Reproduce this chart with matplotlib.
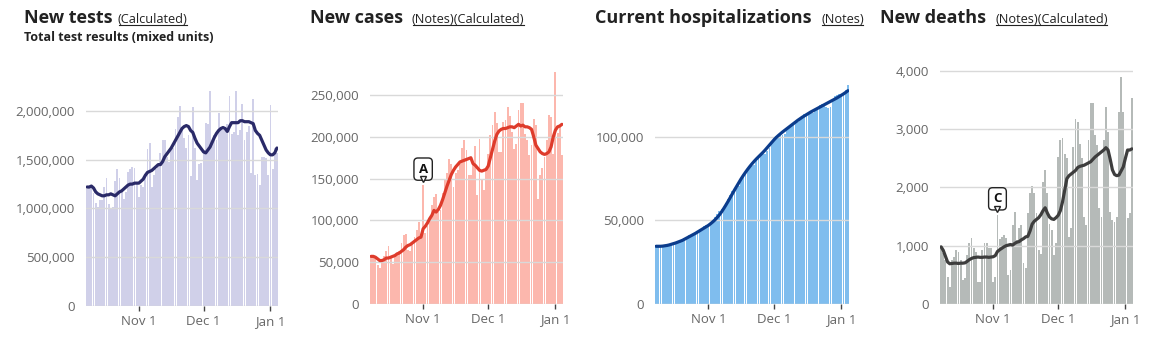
import numpy as np
import matplotlib
matplotlib.use("Agg")
import matplotlib.pyplot as plt
from matplotlib.lines import Line2D
from matplotlib.ticker import FuncFormatter
import matplotlib.transforms as mtransforms

plt.rcParams['font.family'] = ['Open Sans', 'DejaVu Sans']

# ---- data: one value per day, Oct 8 2020 .. Jan 4 2021 ----
dates = np.arange(np.datetime64('2020-10-08'), np.datetime64('2021-01-05'))
tick_dates = np.array(['2020-11-01', '2020-12-01', '2021-01-01'], dtype='datetime64[D]')
tick_labels = ['Nov 1', 'Dec 1', 'Jan 1']

# new tests, thousands
tests_daily = [1200, 1210, 1220, 1160, 1060, 1020, 1090, 1090, 1220, 1310, 1050, 1000, 1020, 1280, 1400, 1310, 1190, 1100, 1170, 1370, 1400, 1430, 1420, 1250,
               1120, 1240, 1220, 1350, 1610, 1670, 1220, 1340, 1400, 1450, 1570, 1700, 1700, 1530, 1480, 1600, 1620, 1820, 1940, 2050, 1800, 1720, 1620, 1750, 1330, 2040, 1620, 1290, 1460, 1470,
               1600, 1880, 1870, 2200, 1660, 1750, 1700, 1980, 1840, 1800, 1820, 1870, 2150, 1760, 1780, 2200, 1750, 1800, 2070, 1700, 1780, 1850, 1360, 2120, 1340, 1350, 1240, 1530, 1530, 1520, 1340,
               2060, 1400, 1620, 1570]
tests_avg = [1220, 1220, 1230, 1210, 1170, 1150, 1140, 1130, 1130, 1140, 1140, 1150, 1140, 1130, 1150, 1170, 1180, 1200, 1220, 1240, 1250, 1250, 1260, 1260,
             1260, 1280, 1300, 1340, 1370, 1380, 1390, 1410, 1430, 1450, 1450, 1480, 1530, 1560, 1590, 1620, 1660, 1700, 1740, 1780, 1820, 1840, 1850, 1840, 1800, 1780, 1720, 1670, 1640, 1610,
             1580, 1570, 1600, 1630, 1680, 1730, 1770, 1800, 1820, 1830, 1820, 1790, 1840, 1880, 1880, 1880, 1880, 1900, 1900, 1890, 1890, 1890, 1880, 1870, 1800, 1770, 1750, 1700, 1650, 1600, 1570,
             1550, 1550, 1570, 1620]

# new cases, thousands
cases_daily = [57, 57, 56, 47, 43, 50, 57, 64, 69, 55, 48, 58, 60, 63, 73, 83, 84, 65, 63, 74, 80, 89, 98, 83,
               142, 85, 93, 103, 118, 128, 132, 110, 112, 133, 148, 157, 174, 167, 140, 157, 160, 168, 187, 196, 184, 154, 154, 170, 189, 130, 197, 150, 137, 160,
               180, 202, 214, 230, 216, 182, 182, 218, 220, 236, 225, 206, 186, 192, 232, 241, 240, 204, 196, 178, 190, 221, 214, 126, 154, 163, 176, 196, 226, 224, 180,
               278, 205, 214, 178]
cases_avg = [57, 57, 56, 54, 52, 52, 53, 55, 55, 56, 57, 58, 60, 61, 63, 65, 68, 70, 71, 73, 75, 77, 79, 80,
             90, 93, 97, 102, 106, 112, 110, 113, 118, 125, 133, 141, 148, 155, 160, 164, 167, 170, 171, 172, 173, 174, 175, 168, 166, 163, 160, 159, 160, 161,
             165, 175, 185, 195, 203, 207, 209, 210, 210, 211, 212, 212, 211, 213, 215, 213, 214, 212, 212, 211, 209, 200, 190, 186, 182, 180, 179, 180, 182, 188, 200,
             208, 212, 213, 215]

# current hospitalizations, thousands
hosp_daily = [34.6, 34.7, 34.8, 34.9, 35.0, 35.3, 35.8, 36.3, 36.9, 37.2, 37.5, 38.0, 38.8, 39.5, 40.3, 41.0, 41.2, 41.5, 42.5, 43.5, 44.6, 45.6, 46.6, 47.0,
              47.3, 48.5, 50.2, 52.0, 53.8, 55.7, 56.8, 57.8, 60.5, 63.0, 65.4, 67.5, 68.8, 69.5, 70.8, 74.0, 77.0, 79.2, 80.7, 82.0, 82.4, 83.2, 85.9, 88.1, 89.9, 89.5, 89.8, 91.6, 93.1, 96.0,
              99.2, 100.3, 101.2, 101.5, 101.2, 101.6, 104.3, 106.5, 107.2, 107.9, 108.0, 109.0, 109.8, 112.6, 113.3, 114.2, 114.0, 114.2, 113.9, 115.4, 117.3, 119.2, 119.8, 119.0, 117.8, 117.3, 117.6, 121.3, 124.6, 125.2, 125.5,
              125.0, 125.5, 128.2, 131.2]
hosp_avg = [34.5, 34.5, 34.5, 34.6, 34.8, 35.0, 35.3, 35.7, 36.1, 36.5, 37.0, 37.5, 38.0, 38.7, 39.4, 40.1, 40.8, 41.5, 42.2, 43.0, 43.8, 44.6, 45.4, 46.2,
            47.0, 48.0, 49.1, 50.3, 51.7, 53.2, 55.0, 57.0, 59.1, 61.3, 63.6, 65.9, 68.2, 70.4, 72.6, 74.8, 76.8, 78.7, 80.5, 82.2, 83.8, 85.3, 86.7, 88.0, 89.3, 90.6, 92.0, 93.5, 95.0, 96.5,
            98.0, 99.4, 100.6, 101.7, 102.8, 103.8, 104.8, 105.8, 106.8, 107.8, 108.8, 109.8, 110.7, 111.6, 112.4, 113.2, 114.0, 114.8, 115.5, 116.2, 116.9, 117.6, 118.3, 119.0, 119.7, 120.4, 121.1, 121.8, 122.5, 123.2, 124.0,
            124.8, 125.6, 126.5, 127.5]

# new deaths
deaths_daily = [980, 870, 750, 470, 285, 750, 810, 925, 900, 750, 410, 440, 840, 1040, 1125, 955, 900, 380, 380, 925, 1040, 1040, 955, 955,
                380, 470, 1525, 1110, 1155, 1180, 1125, 500, 580, 1355, 1585, 1100, 1300, 1355, 700, 610, 1555, 1900, 2020, 1900, 1555, 925, 860, 2100, 2300, 1900, 1380, 1270, 840, 1040,
                2525, 2810, 2840, 2580, 2500, 1155, 1300, 2700, 3180, 3125, 2750, 2500, 1500, 1355, 2810, 3440, 3440, 2900, 2725, 1640, 1500, 2810, 3380, 2955, 1585, 1440, 1410, 1500, 3300, 3900, 3300,
                2410, 1470, 1555, 3525]
deaths_avg = [980, 920, 820, 720, 690, 695, 700, 700, 695, 700, 700, 705, 730, 760, 780, 795, 800, 805, 800, 800, 805, 805, 800, 805,
              810, 830, 900, 930, 955, 980, 1000, 1010, 1020, 1010, 1040, 1060, 1070, 1100, 1120, 1150, 1160, 1250, 1370, 1420, 1450, 1480, 1530, 1600, 1650, 1560, 1490, 1460, 1450, 1480,
              1520, 1600, 1750, 1950, 2150, 2200, 2230, 2260, 2290, 2340, 2360, 2370, 2380, 2400, 2420, 2440, 2480, 2520, 2550, 2580, 2610, 2640, 2680, 2640, 2480, 2300, 2220, 2200, 2210, 2280, 2350,
              2500, 2640, 2640, 2660]

W, H = 1159, 341
fig = plt.figure(figsize=(W / 100, H / 100), dpi=100)
fig.patch.set_facecolor('white')


def add_panel(left, right, top, bottom):
    return fig.add_axes([left / W, 1 - bottom / H, (right - left) / W, (bottom - top) / H])


def draw_panel(ax, daily, avg, scale, bar_color, line_color, ymax, yticks):
    daily = np.array(daily) * scale
    avg = np.array(avg) * scale
    ax.bar(dates, daily, width=0.86, color=bar_color, linewidth=0, zorder=2)
    ax.plot(dates, avg, color=line_color, lw=2.3, zorder=4, solid_capstyle='round')
    ax.set_xlim(dates[0] - np.timedelta64(12, 'h'), dates[-1] + np.timedelta64(12, 'h'))
    ax.set_ylim(0, ymax)
    ax.set_yticks(yticks)
    ax.yaxis.set_major_formatter(FuncFormatter(lambda v, p: f"{v:,.0f}"))
    ax.grid(axis='y', color='#d9d9d9', lw=1, zorder=3)
    ax.set_axisbelow(False)
    ax.set_xticks(tick_dates)
    ax.set_xticklabels(tick_labels)
    for s in ax.spines.values():
        s.set_visible(False)
    ax.tick_params(axis='y', length=0, pad=8, labelsize=9.5, labelcolor='#666666')
    ax.tick_params(axis='x', length=3.5, width=1, color='#444444', pad=3, labelsize=9.5, labelcolor='#666666')
    ax.set_facecolor('none')


def add_note(ax, date, value, letter):
    ax.annotate(letter, xy=(date, value), xytext=(0, 7), textcoords='offset points',
                ha='center', va='bottom', fontsize=9.5, fontweight='bold', color='#111111', zorder=6,
                bbox=dict(boxstyle='round,pad=0.35,rounding_size=0.3', fc='white', ec='#222222', lw=1))
    tr = mtransforms.offset_copy(ax.transData, fig=fig, x=0, y=4.5, units='points')
    ax.plot([date], [value], marker='v', ms=5, mfc='white', mec='#222222', mew=1,
            transform=tr, zorder=7, clip_on=False)


ax1 = add_panel(86, 278, 90, 306)
draw_panel(ax1, tests_daily, tests_avg, 1000, '#d0d0e9', '#2a2a68', 2.215e6,
           [0, 500000, 1000000, 1500000, 2000000])

ax2 = add_panel(370, 563, 70, 304)
draw_panel(ax2, cases_daily, cases_avg, 1000, '#fcb7ad', '#de3b2b', 2.8e5,
           [0, 50000, 100000, 150000, 200000, 250000])
add_note(ax2, np.datetime64('2020-11-01'), 142000, 'A')

ax3 = add_panel(655, 849, 84, 304)
draw_panel(ax3, hosp_daily, hosp_avg, 1000, '#7fbdee', '#0b3c8c', 1.315e5,
           [0, 50000, 100000])

ax4 = add_panel(940, 1133, 70, 304)
draw_panel(ax4, deaths_daily, deaths_avg, 1, '#b5bab8', '#3d3d3d', 4012,
           [0, 1000, 2000, 3000, 4000])
add_note(ax4, np.datetime64('2020-11-03'), 1525, 'C')

# titles
titles = [(24, 'New tests', 118, '(Calculated)'),
          (310, 'New cases', 412, '(Notes)(Calculated)'),
          (595, 'Current hospitalizations', 821, '(Notes)'),
          (880, 'New deaths', 995, '(Notes)(Calculated)')]
links = []
for x, main, lx, link in titles:
    fig.text(x / W, 1 - 23 / H, main, fontsize=13, fontweight='bold', color='#222222', va='baseline')
    links.append(fig.text(lx / W, 1 - 23 / H, link, fontsize=9.2, color='#222222', va='baseline'))
fig.text(24 / W, 1 - 41 / H, 'Total test results (mixed units)', fontsize=9, fontweight='bold',
         color='#222222', va='baseline')

renderer = fig.canvas.get_renderer()
for t in links:
    bb = t.get_window_extent(renderer)
    fig.add_artist(Line2D([bb.x0 + 1, bb.x1 - 1], [bb.y0 + 1.5, bb.y0 + 1.5], transform=None,
                          color='#222222', lw=0.8))

fig.savefig('out.png', dpi=100)
